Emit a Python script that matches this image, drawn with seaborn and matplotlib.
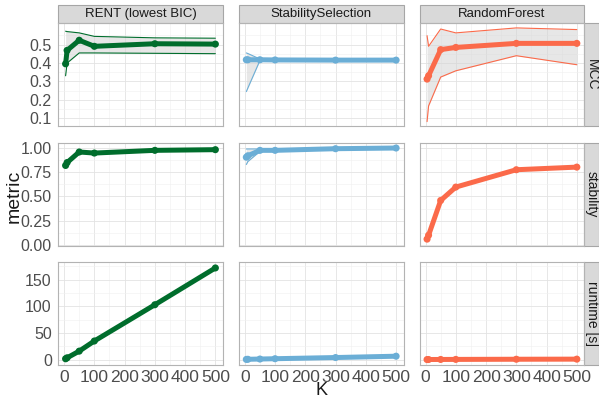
import numpy as np
import pandas as pd
import matplotlib
matplotlib.use('Agg')
import matplotlib.pyplot as plt
from matplotlib.patches import Rectangle
import seaborn as sns

# values
K = [5, 10, 50, 100, 300, 500]
methods = ['RENT (lowest BIC)', 'StabilitySelection', 'RandomForest']
metrics = ['MCC', 'stability', 'runtime [s]']
colors = ['#006d2c', '#6baed6', '#fb6a4a']

rent_mcc_mean = [0.396, 0.469, 0.524, 0.491, 0.505, 0.503]
rent_mcc_lo = [0.331, 0.400, 0.455, 0.455, 0.453, 0.451]
rent_mcc_hi = [0.573, 0.571, 0.564, 0.545, 0.537, 0.535]
ss_mcc_mean = [0.418, 0.418, 0.418, 0.417, 0.416, 0.416]
ss_mcc_lo = [0.245, 0.264, 0.414, 0.414, 0.413, 0.413]
ss_mcc_hi = [0.455, 0.452, 0.422, 0.421, 0.420, 0.420]
rf_mcc_mean = [0.313, 0.331, 0.473, 0.485, 0.507, 0.507]
rf_mcc_lo = [0.082, 0.167, 0.324, 0.358, 0.440, 0.391]
rf_mcc_hi = [0.549, 0.491, 0.585, 0.564, 0.591, 0.582]

rent_stab_mean = [0.820, 0.850, 0.959, 0.948, 0.976, 0.983]
rent_stab_lo = [0.800, 0.840, 0.955, 0.945, 0.972, 0.980]
rent_stab_hi = [0.840, 0.860, 0.963, 0.952, 0.980, 0.986]
ss_stab_mean = [0.905, 0.920, 0.976, 0.976, 0.993, 1.000]
ss_stab_lo = [0.830, 0.860, 0.965, 0.970, 0.990, 0.998]
ss_stab_hi = [0.990, 0.990, 0.990, 0.985, 0.996, 1.000]
rf_stab_mean = [0.060, 0.100, 0.459, 0.597, 0.776, 0.803]
rf_stab_lo = [0.050, 0.090, 0.450, 0.590, 0.770, 0.798]
rf_stab_hi = [0.070, 0.110, 0.468, 0.604, 0.782, 0.808]

rent_rt_mean = [1.7, 3.5, 16.0, 35.0, 103.0, 172.0]
ss_rt_mean = [0.5, 0.7, 1.2, 1.8, 4.0, 6.5]
rf_rt_mean = [0.2, 0.3, 0.4, 0.5, 0.8, 1.0]

rows = []
table = {
    ('RENT (lowest BIC)', 'MCC'): (rent_mcc_mean, rent_mcc_lo, rent_mcc_hi),
    ('StabilitySelection', 'MCC'): (ss_mcc_mean, ss_mcc_lo, ss_mcc_hi),
    ('RandomForest', 'MCC'): (rf_mcc_mean, rf_mcc_lo, rf_mcc_hi),
    ('RENT (lowest BIC)', 'stability'): (rent_stab_mean, rent_stab_lo, rent_stab_hi),
    ('StabilitySelection', 'stability'): (ss_stab_mean, ss_stab_lo, ss_stab_hi),
    ('RandomForest', 'stability'): (rf_stab_mean, rf_stab_lo, rf_stab_hi),
    ('RENT (lowest BIC)', 'runtime [s]'): (rent_rt_mean, rent_rt_mean, rent_rt_mean),
    ('StabilitySelection', 'runtime [s]'): (ss_rt_mean, ss_rt_mean, ss_rt_mean),
    ('RandomForest', 'runtime [s]'): (rf_rt_mean, rf_rt_mean, rf_rt_mean),
}
for (m, met), (mean, lo, hi) in table.items():
    for k, a, b, c in zip(K, mean, lo, hi):
        rows.append({'method': m, 'metric': met, 'K': k, 'mean': a, 'lo': b, 'hi': c})
df = pd.DataFrame(rows)

ylims = {'MCC': (0.057, 0.616), 'stability': (-0.007, 1.055), 'runtime [s]': (-10, 183)}
yticks = {'MCC': [0.1, 0.2, 0.3, 0.4, 0.5],
          'stability': [0.0, 0.25, 0.5, 0.75, 1.0],
          'runtime [s]': [0, 50, 100, 150]}
yminor = {'MCC': [0.15, 0.25, 0.35, 0.45, 0.55],
          'stability': [0.125, 0.375, 0.625, 0.875],
          'runtime [s]': [25, 75, 125, 175]}
ylabels = {'MCC': ['0.1', '0.2', '0.3', '0.4', '0.5'],
           'stability': ['0.00', '0.25', '0.50', '0.75', '1.00'],
           'runtime [s]': ['0', '50', '100', '150']}

sns.set_style('white')
plt.rcParams['font.family'] = ['Liberation Sans', 'DejaVu Sans']
fig, axes = plt.subplots(3, 3, figsize=(5.99, 3.99), dpi=100, sharex=True)
plt.subplots_adjust(left=0.097, right=0.9755, top=0.9416, bottom=0.0852,
                    wspace=0.097, hspace=0.16)

for i, met in enumerate(metrics):
    for j, m in enumerate(methods):
        ax = axes[i, j]
        d = df[(df['method'] == m) & (df['metric'] == met)]
        col = colors[j]
        ax.fill_between(d['K'], d['lo'], d['hi'], color='#d4d4d4', alpha=0.55, lw=0, zorder=2)
        sns.lineplot(data=d, x='K', y='lo', ax=ax, color=col, lw=0.8, zorder=3)
        sns.lineplot(data=d, x='K', y='hi', ax=ax, color=col, lw=0.8, zorder=3)
        sns.lineplot(data=d, x='K', y='mean', ax=ax, color=col, lw=3.6, zorder=4)
        sns.scatterplot(data=d, x='K', y='mean', ax=ax, color=col, s=26,
                        edgecolor='none', zorder=5)
        ax.set_xlim(-19.75, 524.75)
        ax.set_ylim(*ylims[met])
        ax.set_xticks([0, 100, 200, 300, 400, 500])
        ax.set_xticks([50, 150, 250, 350, 450], minor=True)
        ax.set_yticks(yticks[met])
        ax.set_yticks(yminor[met], minor=True)
        ax.grid(True, which='major', color='#e3e3e3', lw=0.6)
        ax.grid(True, which='minor', color='#f0f0f0', lw=0.4)
        ax.set_axisbelow(True)
        for s in ax.spines.values():
            s.set_color('#b3b3b3')
            s.set_linewidth(0.8)
        ax.set_xlabel('')
        ax.set_ylabel('')
        if j == 0:
            ax.set_yticklabels(ylabels[met])
            ax.tick_params(axis='y', length=3, color='#b3b3b3', labelsize=11.5,
                           labelcolor='#4d4d4d', pad=1.5)
        else:
            ax.tick_params(axis='y', left=False, labelleft=False)
        if i == 2:
            ax.set_xticklabels(['0', '100', '200', '300', '400', '500'])
            ax.tick_params(axis='x', length=3, color='#b3b3b3', labelsize=12.5,
                           labelcolor='#4d4d4d', pad=0.5)
        else:
            ax.tick_params(axis='x', bottom=False, labelbottom=False)
        ax.tick_params(which='minor', length=0)

        if i == 0:
            ax.add_patch(Rectangle((0, 1.0), 1, 0.178, transform=ax.transAxes,
                                   facecolor='#d9d9d9', edgecolor='#a6a6a6',
                                   lw=0.8, clip_on=False))
            ax.text(0.5, 1.089, m, transform=ax.transAxes, ha='center', va='center',
                    fontsize=9.5, color='#1a1a1a')
        if j == 2:
            ax.add_patch(Rectangle((1.0, 0), 0.092, 1, transform=ax.transAxes,
                                   facecolor='#d9d9d9', edgecolor='#a6a6a6',
                                   lw=0.8, clip_on=False))
            ax.text(1.046, 0.5, met, transform=ax.transAxes, ha='center', va='center',
                    rotation=270, fontsize=10, color='#1a1a1a')

fig.text(0.024, 0.507, 'metric', rotation=90, ha='center', va='center',
         fontsize=14, color='#1a1a1a')
fig.text(0.537, 0.022, 'K', ha='center', va='center', fontsize=13, color='#1a1a1a')

fig.savefig('out.png', dpi=100)
